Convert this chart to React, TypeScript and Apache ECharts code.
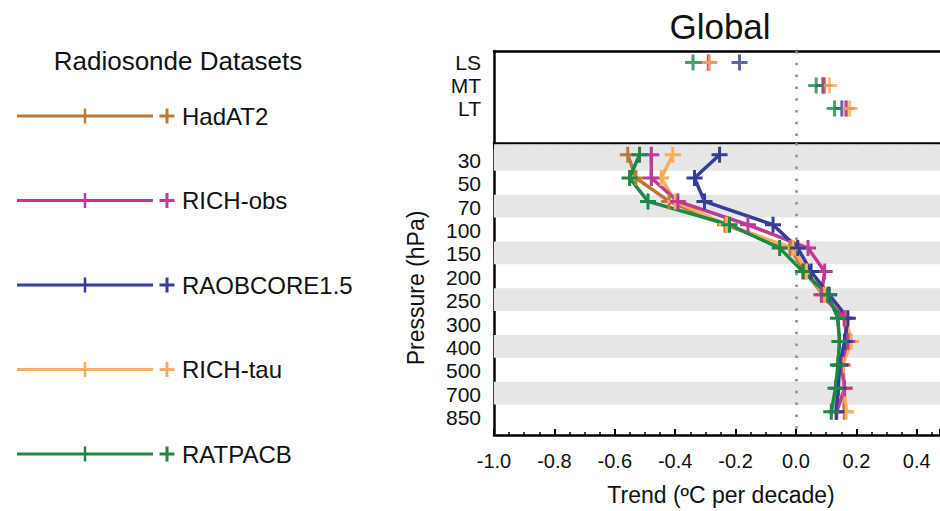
import React, { useEffect, useRef } from 'react';
import * as echarts from 'echarts';

// Pressure levels (hPa), top to bottom
const levels = ['30', '50', '70', '100', '150', '200', '250', '300', '400', '500', '700', '850'];
// Satellite-equivalent layers in the top panel
const layers = ['LS', 'MT', 'LT'];

// x axis (trend, °C per decade); the plot is cut at the right edge of the picture
const xMin = -1.0;
const xMax = 0.477;
const xStep = 0.2;

const names = ['HadAT2', 'RICH-obs', 'RAOBCORE1.5', 'RICH-tau', 'RATPACB'];
const colors = ['#BF7832', '#BE3A96', '#343E98', '#F6AE5C', '#1C8845'];

// Profile trends at each pressure level
const hadat2 = [-0.557, -0.53, -0.42, -0.235, -0.02, 0.03, 0.09, 0.16, 0.175, 0.155, 0.16, 0.16];
const richObs = [-0.479, -0.479, -0.391, -0.159, 0.04, 0.095, 0.084, 0.16, 0.17, 0.15, 0.161, 0.135];
const raobcore = [-0.253, -0.336, -0.303, -0.076, 0.006, 0.05, 0.11, 0.172, 0.161, 0.145, 0.14, 0.133];
const richTau = [-0.408, -0.446, -0.4, -0.23, -0.01, 0.035, 0.095, 0.165, 0.183, 0.155, 0.16, 0.166];
const ratpacb = [-0.518, -0.551, -0.49, -0.22, -0.054, 0.023, 0.106, 0.139, 0.144, 0.139, 0.131, 0.117];

// Layer trends (LS, MT, LT)
const layerHadat2 = [-0.29, 0.095, 0.168];
const layerRichObs = [-0.29, 0.09, 0.165];
const layerRaobcore = [-0.187, 0.09, 0.152];
const layerRichTau = [-0.286, 0.111, 0.178];
const layerRatpacb = [-0.341, 0.067, 0.128];

const profiles = [hadat2, richObs, raobcore, richTau, ratpacb];
const layerValues = [layerHadat2, layerRichObs, layerRaobcore, layerRichTau, layerRatpacb];

const mainOrder = [0, 3, 1, 2, 4];
const topOrder = [2, 0, 1, 3, 4];

const FONT = 'Liberation Sans, Arial, Helvetica, sans-serif';
const PLUS = 'path://M-1.5,-8H1.5V-1.5H8V1.5H1.5V8H-1.5V1.5H-8V-1.5H-1.5Z';

const GRID_LEFT = 494;
const GRID_RIGHT_EDGE = 940;

function fmtX(v: number) {
  if (Math.abs(v) < 1e-9) return '0.0';
  return v.toFixed(1);
}

export default function App() {
  const ref = useRef<HTMLDivElement>(null);

  useEffect(() => {
    if (!ref.current) return;
    const chart = echarts.init(ref.current, undefined, { renderer: 'svg' });

    const series: any[] = [];

    // bands + zero line in main panel
    const bandIdx = [0, 2, 4, 6, 8, 10];
    series.push({
      type: 'line',
      xAxisIndex: 2,
      yAxisIndex: 1,
      data: [],
      silent: true,
      z: 1,
      markArea: {
        silent: true,
        itemStyle: { color: '#E6E6E6' },
        data: bandIdx.map((i) => [{ yAxis: i === 0 ? -0.45 : i - 0.28 }, { yAxis: i + 0.69 }]),
      },
      markLine: {
        silent: true,
        symbol: 'none',
        label: { show: false },
        lineStyle: { color: '#8C8C8C', width: 2.5, type: [2.5, 9.3] },
        data: [{ xAxis: 0 }],
      },
    });
    // zero line in top panel
    series.push({
      type: 'line',
      xAxisIndex: 0,
      yAxisIndex: 0,
      data: [],
      silent: true,
      z: 1,
      markLine: {
        silent: true,
        symbol: 'none',
        label: { show: false },
        lineStyle: { color: '#8C8C8C', width: 2.5, type: [2.5, 9.3] },
        data: [{ xAxis: 0 }],
      },
    });

    mainOrder.forEach((k) => {
      series.push({
        name: names[k],
        type: 'line',
        xAxisIndex: 2,
        yAxisIndex: 1,
        z: 3,
        silent: true,
        data: profiles[k].map((v, i) => [v, i]),
        symbol: PLUS,
        symbolSize: 16,
        showSymbol: true,
        lineStyle: { color: colors[k], width: 3.5 },
        itemStyle: { color: colors[k] },
      });
    });

    topOrder.forEach((k) => {
      series.push({
        name: names[k] + ' layers',
        type: 'scatter',
        xAxisIndex: 0,
        yAxisIndex: 0,
        z: 3,
        silent: true,
        data: layerValues[k].map((v, i) => [v, i]),
        symbol: PLUS,
        symbolSize: 16,
        itemStyle: { color: colors[k] },
      });
    });

    const legendGraphics: any[] = [];
    names.forEach((n, i) => {
      const y = 116 + i * 84.5;
      const c = colors[i];
      legendGraphics.push(
        { type: 'line', shape: { x1: 17, y1: y, x2: 153, y2: y }, style: { stroke: c, lineWidth: 3 } },
        { type: 'line', shape: { x1: 85, y1: y - 7.5, x2: 85, y2: y + 7.5 }, style: { stroke: c, lineWidth: 2.5 } },
        { type: 'line', shape: { x1: 159.5, y1: y, x2: 174.5, y2: y }, style: { stroke: c, lineWidth: 3 } },
        { type: 'line', shape: { x1: 167, y1: y - 7.5, x2: 167, y2: y + 7.5 }, style: { stroke: c, lineWidth: 3 } },
        {
          type: 'text',
          x: 182,
          y: y,
          style: { text: n, fill: '#111', fontSize: 24, fontFamily: FONT, textAlign: 'left', textVerticalAlign: 'middle' },
        }
      );
    });

    const axisLineStyle = { color: '#000', width: 2.5 };
    const gridWidth = GRID_RIGHT_EDGE - GRID_LEFT;

    chart.setOption({
      animation: false,
      backgroundColor: '#fff',
      grid: [
        { left: GRID_LEFT, top: 51, height: 92, width: gridWidth, containLabel: false },
        { left: GRID_LEFT, top: 143, height: 292, width: gridWidth, containLabel: false },
      ],
      xAxis: [
        {
          gridIndex: 0,
          type: 'value',
          position: 'top',
          min: xMin,
          max: xMax,
          interval: xStep,
          axisLine: { show: true, onZero: false, lineStyle: axisLineStyle },
          axisTick: { show: false },
          axisLabel: { show: false },
          splitLine: { show: false },
        },
        {
          gridIndex: 1,
          type: 'value',
          position: 'top',
          min: xMin,
          max: xMax,
          interval: xStep,
          axisLine: { show: true, onZero: false, lineStyle: axisLineStyle },
          axisTick: { show: true, inside: true, length: 6, lineStyle: { color: '#000', width: 2 } },
          minorTick: { show: true, splitNumber: 4, length: 3, lineStyle: { color: '#000', width: 1.5 } },
          axisLabel: { show: false },
          splitLine: { show: false },
        },
        {
          gridIndex: 1,
          type: 'value',
          position: 'bottom',
          min: xMin,
          max: xMax,
          interval: xStep,
          axisLine: { show: true, onZero: false, lineStyle: axisLineStyle },
          axisTick: { show: true, inside: true, length: 6, lineStyle: { color: '#000', width: 2 } },
          minorTick: { show: true, splitNumber: 4, length: 3, lineStyle: { color: '#000', width: 1.5 } },
          axisLabel: {
            show: true,
            margin: 16,
            fontSize: 20,
            fontFamily: FONT,
            color: '#111',
            showMaxLabel: false,
            formatter: (v: number) => fmtX(v),
          },
          splitLine: { show: false },
        },
      ],
      yAxis: [
        {
          gridIndex: 0,
          type: 'value',
          inverse: true,
          min: -0.5,
          max: 3.5,
          interval: 0.25,
          axisLine: { show: true, onZero: false, lineStyle: axisLineStyle },
          axisTick: { show: false },
          splitLine: { show: false },
          axisLabel: {
            show: true,
            margin: 13,
            fontSize: 21,
            fontFamily: FONT,
            color: '#111',
            formatter: (v: number) => {
              // label each layer a touch below its marks, as in the original figure
              const i = Math.round(v - 0.0);
              return Math.abs(v - i) < 1e-6 && i >= 0 && i < layers.length ? layers[i] : '';
            },
          },
        },
        {
          gridIndex: 1,
          type: 'value',
          inverse: true,
          min: -0.5,
          max: 12,
          interval: 0.25,
          axisLine: { show: true, onZero: false, lineStyle: axisLineStyle },
          axisTick: { show: false },
          splitLine: { show: false },
          axisLabel: {
            show: true,
            margin: 13,
            fontSize: 21,
            fontFamily: FONT,
            color: '#111',
            formatter: (v: number) => {
              // the original figure prints each pressure label slightly below its level
              const i = Math.round(v - 0.25);
              return Math.abs(v - 0.25 - i) < 1e-6 && i >= 0 && i < levels.length ? levels[i] : '';
            },
          },
        },
      ],
      series,
      graphic: [
        {
          type: 'text',
          x: 720,
          y: 26,
          style: { text: 'Global', fill: '#111', fontSize: 35, fontFamily: FONT, textAlign: 'center', textVerticalAlign: 'middle' },
        },
        {
          type: 'text',
          x: 178,
          y: 61,
          style: { text: 'Radiosonde Datasets', fill: '#111', fontSize: 26, fontFamily: FONT, textAlign: 'center', textVerticalAlign: 'middle' },
        },
        {
          type: 'text',
          x: 721,
          y: 495,
          style: { text: 'Trend (ºC per decade)', fill: '#111', fontSize: 23, fontFamily: FONT, textAlign: 'center', textVerticalAlign: 'middle' },
        },
        {
          type: 'text',
          x: 416,
          y: 288,
          rotation: Math.PI / 2,
          style: { text: 'Pressure (hPa)', fill: '#111', fontSize: 23, fontFamily: FONT, textAlign: 'center', textVerticalAlign: 'middle' },
        },
        ...legendGraphics,
      ],
    });

    return () => {
      chart.dispose();
    };
  }, []);

  return <div ref={ref} style={{ position: 'absolute', left: 0, top: 0, width: 940, height: 511 }} />;
}
